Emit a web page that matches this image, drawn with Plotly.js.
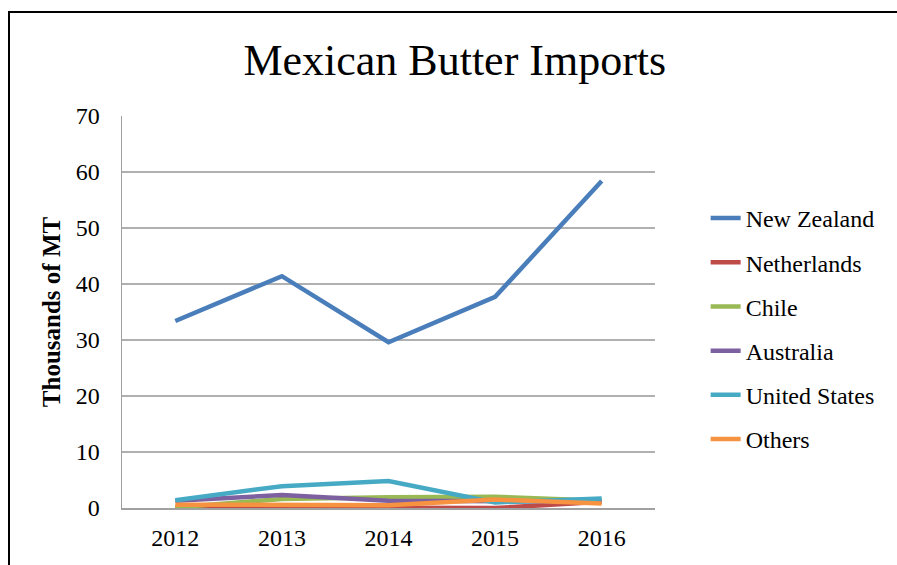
<!DOCTYPE html>
<html><head><meta charset="utf-8">
<script src="https://cdn.plot.ly/plotly-3.0.1.min.js"></script>
<style>
html,body{margin:0;padding:0;background:#fff;overflow:hidden;}
#chart{position:absolute;left:0;top:0;width:897px;height:565px;}
#frame{position:absolute;left:8px;top:11px;width:900px;height:600px;border:2.5px solid #000;pointer-events:none;}
</style></head>
<body>
<div id="chart"></div>
<div id="frame"></div>
<script>
const years = ['2012','2013','2014','2015','2016'];
const newZealand = [33.4, 41.4, 29.6, 37.7, 58.4];
const netherlands = [0.1, 0.1, 0.1, 0.0, 1.1];
const chile = [0.1, 1.6, 1.9, 2.0, 1.3];
const australia = [1.3, 2.3, 1.3, 1.1, 1.1];
const unitedStates = [1.4, 3.9, 4.8, 1.0, 1.7];
const others = [0.6, 0.5, 0.5, 1.5, 0.8];
const seriesNames = ['New Zealand','Netherlands','Chile','Australia','United States','Others'];
const seriesValues = [newZealand, netherlands, chile, australia, unitedStates, others];
const seriesColors = ['#4A7EBB','#BE4B48','#98B954','#7D60A0','#46AAC5','#F69240'];

const serif = "'Liberation Serif', 'Times New Roman', serif";
const traces = seriesNames.map((n,i)=>({
  x: years, y: seriesValues[i], name: n, type:'scatter', mode:'lines',
  line:{color:seriesColors[i], width:4.5}, legendgroup:'g'+i
}));
const layout = {
  width:897, height:565,
  margin:{l:122, r:242, t:116, b:57},
  paper_bgcolor:'#fff', plot_bgcolor:'#fff',
  font:{family:serif, size:24, color:'#000'},
  title:{text:'Mexican Butter Imports', font:{family:serif, size:44, color:'#000'},
    xref:'container', yref:'container', x:0.507, y:0.894, xanchor:'center', yanchor:'middle'},
  xaxis:{type:'category', range:[-0.5,4.5], showgrid:false, showline:true, linecolor:'#a0a0a0', linewidth:1.5,
    ticks:'', tickfont:{family:serif, size:24}, ticklabelstandoff:8, zeroline:false, fixedrange:true},
  yaxis:{range:[0,70], dtick:10, showgrid:true, gridcolor:'#b0b0b0', gridwidth:1.5,
    showline:true, linecolor:'#a0a0a0', linewidth:1.5, zeroline:false, ticks:'',
    tickfont:{family:serif, size:24}, ticklabelstandoff:16,
    title:{text:'<b>Thousands of MT</b>', font:{family:serif, size:25}, standoff:8}},
  showlegend:true,
  legend:{x:1.095, xanchor:'left', y:0.796, yanchor:'top', traceorder:'grouped',
    tracegroupgap:10, font:{family:serif, size:24}, bgcolor:'rgba(0,0,0,0)'}
};
Plotly.newPlot('chart', traces, layout, {displayModeBar:false, staticPlot:true});
</script>
</body></html>
